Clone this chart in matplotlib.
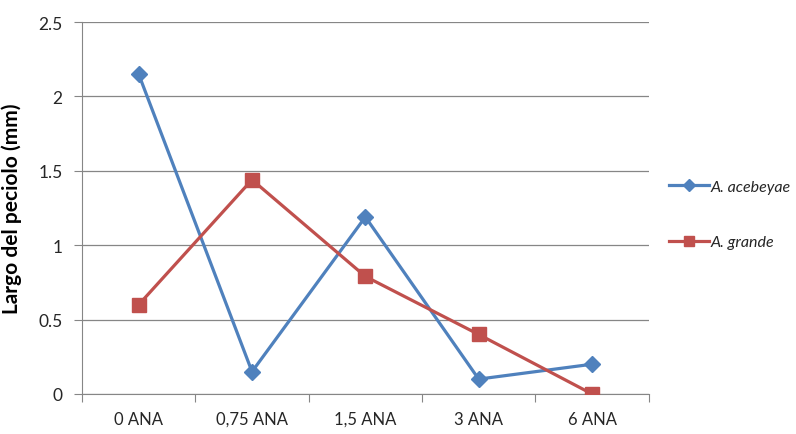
import matplotlib.pyplot as plt
import numpy as np

plt.rcParams['font.family'] = ['Lato', 'DejaVu Sans']

# Datos: largo del peciolo por concentración de ANA
categorias = ['0 ANA', '0,75 ANA', '1,5 ANA', '3 ANA', '6 ANA']
acebeyae = [2.15, 0.15, 1.19, 0.10, 0.20]
grande = [0.60, 1.44, 0.79, 0.40, 0.00]

azul = '#4F81BD'
rojo = '#C0504D'
gris = '#868686'

fig = plt.figure(figsize=(7.96, 4.35), dpi=100)
ax = fig.add_axes([0.103, 0.092, 0.712, 0.855])

x = np.arange(len(categorias))
l1, = ax.plot(x, acebeyae, color=azul, lw=2.3, marker='D', ms=8,
              label='A. acebeyae', zorder=3)
l2, = ax.plot(x, grande, color=rojo, lw=2.3, marker='s', ms=10,
              label='A. grande', zorder=3)

ax.set_xlim(-0.5, len(categorias) - 0.5)
ax.set_ylim(0, 2.5)
ax.set_yticks([0, 0.5, 1, 1.5, 2, 2.5])
ax.set_yticklabels(['0', '0.5', '1', '1.5', '2', '2.5'])
ax.yaxis.grid(True, color=gris, lw=0.9)
ax.set_axisbelow(True)

# ticks del eje x entre categorías
ax.set_xticks(np.arange(-0.5, len(categorias) + 0.5, 1))
ax.set_xticklabels([])
ax.set_xticks(x, minor=True)
ax.set_xticklabels(categorias, minor=True)
ax.tick_params(axis='x', which='major', length=6, color=gris, direction='out')
ax.tick_params(axis='x', which='minor', length=0, pad=12, labelsize=12,
               labelcolor='#262626')
ax.tick_params(axis='y', length=6, color=gris, labelsize=12.5,
               labelcolor='#262626', pad=8)

for s in ['top', 'right']:
    ax.spines[s].set_visible(False)
ax.spines['left'].set_color(gris)
ax.spines['bottom'].set_color(gris)

ax.set_ylabel('Largo del peciolo (mm)', fontsize=15, fontweight='bold')
ax.yaxis.set_label_coords(-0.106, 0.5)

leg = fig.legend(handles=[l1, l2], loc='center left',
                 bbox_to_anchor=(0.822, 0.505), frameon=False,
                 handlelength=2.5, labelspacing=2.6, handletextpad=0.15,
                 prop={'style': 'italic', 'size': 11.5}, markerscale=0.75)
for t in leg.get_texts():
    t.set_color('#262626')

fig.savefig('out.png', dpi=100)
